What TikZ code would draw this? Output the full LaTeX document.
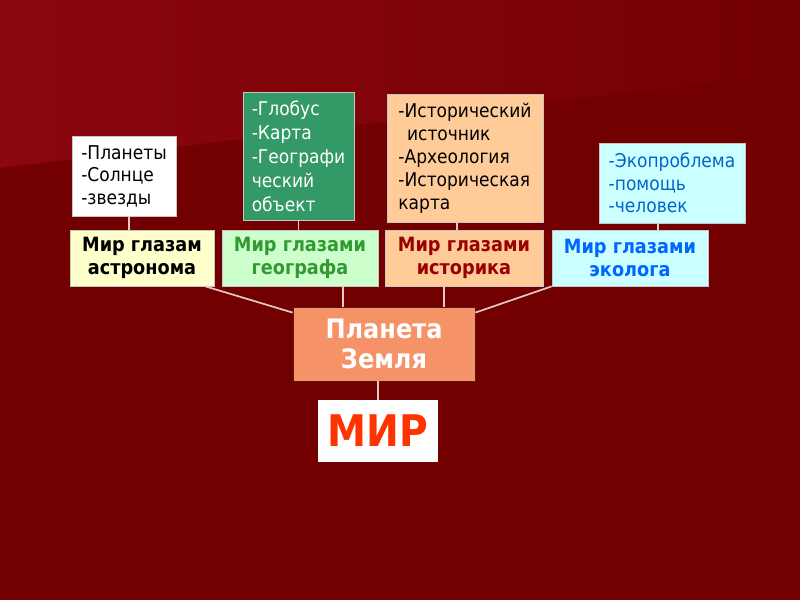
\documentclass[tikz,border=0pt]{standalone}
\usepackage{fontspec}
\setmainfont{DejaVu Sans Condensed}
\usetikzlibrary{calc, positioning}

\definecolor{bgdark}{HTML}{720000}
\definecolor{bglight}{HTML}{8C0710}
\definecolor{wire}{HTML}{E6CACA}
\definecolor{astrofill}{HTML}{FFFFCC}
\definecolor{geofill}{HTML}{CCFFCC}
\definecolor{geotext}{HTML}{339933}
\definecolor{globefill}{HTML}{339966}
\definecolor{histfill}{HTML}{FFCC99}
\definecolor{histtext}{HTML}{990000}
\definecolor{ecofill}{HTML}{CCFFFF}
\definecolor{ecotext}{HTML}{0066FF}
\definecolor{ecolisttext}{HTML}{0066CC}
\definecolor{earthfill}{HTML}{F59268}
\definecolor{earthline}{HTML}{5A1A10}
\definecolor{mirtext}{HTML}{FF3300}

\begin{document}
\begin{tikzpicture}[
  listbox/.style={draw=gray!45, line width=0.5pt, align=left, inner sep=0pt,
    font=\fontsize{13.5}{16}\selectfont},
  titlebox/.style={draw=gray!45, line width=0.5pt, align=center, inner sep=0pt,
    minimum width=3.9cm, minimum height=1.4cm,
    font=\bfseries\fontsize{14}{16.5}\selectfont},
  wireline/.style={wire, line width=1.2pt}
]

% Background
\useasboundingbox (0,0) rectangle (20,15);
\fill[bgdark] (0,0) rectangle (20,15);
\shade[left color=bglight, right color=bgdark]
  (0,15) -- (20,15) -- (20,13.2) -- (0,10.8) -- cycle;

% Lists on top
\node[listbox, fill=white, minimum width=2.6cm, minimum height=2cm]
  (planets) at (3.1,10.6) {-Планеты\\-Солнце\\-звезды};
\node[listbox, fill=globefill, text=white, minimum width=2.775cm, minimum height=3.2cm,
  font=\fontsize{13.5}{17}\selectfont]
  (globe) at (7.4625,11.1) {-Глобус\\-Карта\\-Географи\\ческий\\объект};
\node[listbox, fill=histfill, minimum width=3.9cm, minimum height=3.2cm,
  font=\fontsize{13.5}{16.4}\selectfont]
  (sources) at (11.625,11.05) {-Исторический\\\ \,источник\\-Археология\\-Историческая\\карта};
\node[listbox, fill=ecofill, text=ecolisttext, minimum width=3.65cm, minimum height=2cm]
  (problems) at (16.8,10.425) {-Экопроблема\\-помощь\\-человек};

% Title boxes
\node[titlebox, fill=astrofill, minimum width=3.6cm] (astro) at (3.55,8.55) {Мир глазам\\астронома};
\node[titlebox, fill=geofill, text=geotext] (geo) at (7.5,8.55) {Мир глазами\\географа};
\node[titlebox, fill=histfill, text=histtext, minimum width=3.95cm] (hist) at (11.6,8.55) {Мир глазами\\историка};
\node[titlebox, fill=ecofill, text=ecotext] (eco) at (15.75,8.55) {Мир глазами\\эколога};

% Centre
\node[draw=earthline, line width=0.6pt, fill=earthfill, text=white, align=center,
  minimum width=4.55cm, minimum height=1.85cm, inner sep=0pt,
  font=\bfseries\fontsize{19}{21}\selectfont]
  (earth) at (9.6,6.4) {Планета\\Земля};
\node[fill=white, text=mirtext, minimum width=3cm, minimum height=1.55cm, inner sep=0pt,
  font=\bfseries\fontsize{31}{36}\selectfont]
  (mir) at (9.45,4.225) {МИР};

% Lists to titles
\draw[wireline] ([xshift=0.125cm]planets.south) -- ([xshift=0.125cm]planets.south |- astro.north);
\draw[wireline] (globe.south) -- (globe.south |- geo.north);
\draw[wireline] ([xshift=-0.2cm]sources.south) -- ([xshift=-0.2cm]sources.south |- hist.north);
\draw[wireline] ([xshift=-0.35cm]problems.south) -- ([xshift=-0.35cm]problems.south |- eco.north);

% Titles to Earth
\draw[wireline] ([xshift=-0.225cm]astro.south east) -- ([yshift=-0.15cm]earth.north west);
\draw[wireline] ([xshift=-1.025cm]earth.north) -- ([xshift=-1.025cm]earth.north |- geo.south);
\draw[wireline] ([xshift=1.5cm]earth.north) -- ([xshift=1.5cm]earth.north |- hist.south);
\draw[wireline] (eco.south west) -- ([yshift=-0.15cm]earth.north east);
\draw[wireline] (mir.north |- earth.south) -- (mir.north);

\end{tikzpicture}
\end{document}
